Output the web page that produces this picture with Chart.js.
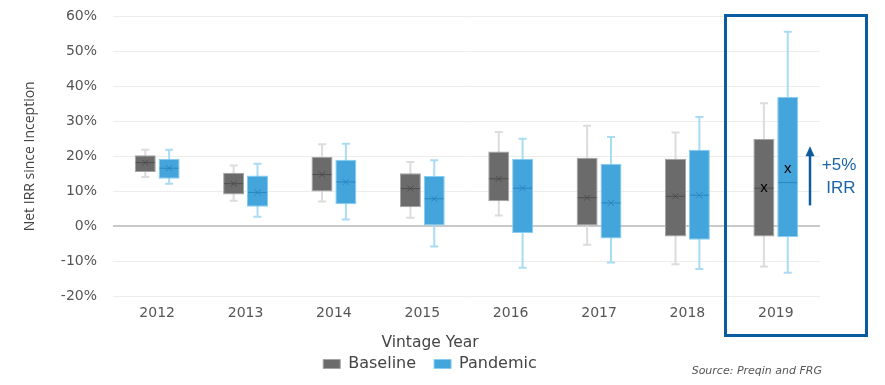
<!DOCTYPE html>
<html lang="en">
<head>
<meta charset="UTF-8">
<title>Net IRR since Inception by Vintage Year</title>
<script src="https://cdn.jsdelivr.net/npm/chart.js"></script>
<style>
  body { margin: 0; background: #fff; }
</style>
</head>
<body>
<canvas id="irr" width="885" height="385"></canvas>
<script>
// values (percent)
const years = ['2012', '2013', '2014', '2015', '2016', '2017', '2018', '2019'];

const baseMin    = [14.1, 7.3, 7.1, 2.5, 3.1, -5.2, -10.8, -11.4];
const baseQ1     = [15.5, 9.1, 10.0, 5.5, 7.2, 0.0, -2.9, -2.9];
const baseMedian = [18.2, 12.2, 14.8, 10.8, 13.6, 8.2, 8.6, 10.9];
const baseQ3     = [20.3, 15.3, 19.8, 15.2, 21.4, 19.6, 19.3, 24.9];
const baseMax    = [21.9, 17.4, 23.4, 18.4, 26.9, 28.7, 26.8, 35.1];
const baseMean   = [18.2, 12.2, 14.8, 10.8, 13.6, 8.2, 8.6, 10.9];

const pandMin    = [12.2, 2.8, 2.0, -5.7, -11.8, -10.3, -12.1, -13.2];
const pandQ1     = [13.6, 5.6, 6.3, 0.0, -1.9, -3.4, -3.8, -3.0];
const pandMedian = [16.6, 9.7, 12.7, 7.9, 10.9, 6.7, 8.9, 12.5];
const pandQ3     = [19.3, 14.5, 19.0, 14.4, 19.3, 17.9, 21.9, 36.9];
const pandMax    = [21.9, 17.9, 23.6, 18.9, 25.0, 25.5, 31.2, 55.5];
const pandMean   = [16.6, 9.7, 12.7, 7.9, 10.9, 6.7, 8.9, 16.3];

const yTicks = [-20, -10, 0, 10, 20, 30, 40, 50, 60];

const FONT = '"DejaVu Sans", sans-serif';

// whiskers, medians and means for each box dataset
const extras = [
  { min: baseMin, median: baseMedian, max: baseMax, mean: baseMean, whisker: '#dcdcdc', mid: '#4e4e4e' },
  { min: pandMin, median: pandMedian, max: pandMax, mean: pandMean, whisker: '#a9dbf3', mid: '#2b86bf' }
];

const boxPlotBits = {
  id: 'boxPlotBits',
  beforeDatasetsDraw(chart) {
    const ctx = chart.ctx, y = chart.scales.y;
    ctx.save();
    extras.forEach((s, d) => {
      chart.getDatasetMeta(d).data.forEach((bar, i) => {
        const top = y.getPixelForValue(s.max[i]);
        const bot = y.getPixelForValue(s.min[i]);
        ctx.strokeStyle = s.whisker;
        ctx.lineWidth = 2;
        ctx.beginPath();
        ctx.moveTo(bar.x, top); ctx.lineTo(bar.x, bot);
        ctx.moveTo(bar.x - 4, top); ctx.lineTo(bar.x + 4, top);
        ctx.moveTo(bar.x - 4, bot); ctx.lineTo(bar.x + 4, bot);
        ctx.stroke();
      });
    });
    ctx.restore();
  },
  afterDatasetsDraw(chart) {
    const ctx = chart.ctx, y = chart.scales.y;
    const last = years.length - 1;
    ctx.save();
    extras.forEach((s, d) => {
      chart.getDatasetMeta(d).data.forEach((bar, i) => {
        const half = bar.width / 2;
        const my = y.getPixelForValue(s.median[i]);
        ctx.strokeStyle = s.mid;
        ctx.lineWidth = 1;
        ctx.beginPath();
        ctx.moveTo(bar.x - half + 1, my); ctx.lineTo(bar.x + half - 1, my);
        ctx.stroke();
        const ay = y.getPixelForValue(s.mean[i]);
        if (i === last) {
          ctx.fillStyle = '#000';
          ctx.font = '15px "Liberation Sans", Arial, sans-serif';
          ctx.textAlign = 'center';
          ctx.textBaseline = 'middle';
          ctx.fillText('x', bar.x, ay);
        } else {
          ctx.beginPath();
          ctx.moveTo(bar.x - 3, ay - 3); ctx.lineTo(bar.x + 3, ay + 3);
          ctx.moveTo(bar.x + 3, ay - 3); ctx.lineTo(bar.x - 3, ay + 3);
          ctx.stroke();
        }
      });
    });
    ctx.restore();
  },
  afterDraw(chart) {
    const ctx = chart.ctx, y = chart.scales.y;
    ctx.save();
    // source note
    ctx.fillStyle = '#555';
    ctx.font = 'italic 11px ' + FONT;
    ctx.textAlign = 'right';
    ctx.textBaseline = 'middle';
    ctx.fillText('Source: Preqin and FRG', 822, 371);

    // highlight frame round 2019
    ctx.strokeStyle = '#0b5c9e';
    ctx.lineWidth = 3;
    ctx.strokeRect(725.5, 15.5, 141, 320);

    // arrow from the baseline mean up to the pandemic mean
    const ax = 810;
    const y0 = y.getPixelForValue(6), y1 = y.getPixelForValue(22);
    ctx.strokeStyle = '#0b5c9e';
    ctx.fillStyle = '#0b5c9e';
    ctx.lineWidth = 2.5;
    ctx.beginPath();
    ctx.moveTo(ax, y0); ctx.lineTo(ax, y1 + 6);
    ctx.stroke();
    ctx.beginPath();
    ctx.moveTo(ax, y1 - 3); ctx.lineTo(ax - 4.5, y1 + 7); ctx.lineTo(ax + 4.5, y1 + 7);
    ctx.closePath();
    ctx.fill();

    ctx.fillStyle = '#1a64a8';
    ctx.font = '17px "Liberation Sans", Arial, sans-serif';
    ctx.textAlign = 'center';
    ctx.fillText('+5%', 839, 165);
    ctx.fillText('IRR', 841, 188);
    ctx.restore();
  }
};

const chart = new Chart(document.getElementById('irr'), {
  type: 'bar',
  data: {
    labels: years,
    datasets: [
      {
        label: 'Baseline',
        data: years.map((_, i) => [baseQ1[i], baseQ3[i]]),
        backgroundColor: '#6b6b6b',
        borderColor: '#a3a3a3',
        borderWidth: 1,
        borderSkipped: false,
        categoryPercentage: 0.54,
        barPercentage: 0.88
      },
      {
        label: 'Pandemic',
        data: years.map((_, i) => [pandQ1[i], pandQ3[i]]),
        backgroundColor: '#43a5dc',
        borderColor: '#86cdef',
        borderWidth: 1,
        borderSkipped: false,
        categoryPercentage: 0.54,
        barPercentage: 0.88
      }
    ]
  },
  options: {
    responsive: false,
    animation: false,
    devicePixelRatio: 1,
    layout: { padding: { left: 0, right: 25, top: 16, bottom: 3 } },
    scales: {
      x: {
        grid: { display: false, drawTicks: false },
        border: { display: false },
        ticks: { color: '#555', font: { family: FONT, size: 14 }, padding: 8 }
      },
      y: {
        min: -20,
        max: 60,
        afterBuildTicks: (s) => { s.ticks = yTicks.map(v => ({ value: v })); },
        afterFit: (s) => { s.width = 113; s.paddingTop = 0; s.paddingBottom = 0; },
        border: { display: false },
        grid: {
          drawTicks: false,
          color: (c) => c.tick && c.tick.value === 0 ? '#c9c9c9' : '#ececec',
          lineWidth: (c) => c.tick && c.tick.value === 0 ? 2 : 1
        },
        ticks: {
          color: '#555',
          font: { family: FONT, size: 14 },
          padding: 16,
          callback: (v) => v + '%'
        },
        title: {
          display: true,
          text: 'Net IRR since Inception',
          color: '#444',
          font: { family: '"Open Sans", sans-serif', size: 14 },
          padding: { top: 22, bottom: 0 }
        }
      },
      // spacer so the legend centres where the reference has it
      y2: {
        position: 'right',
        display: true,
        min: -20,
        max: 60,
        grid: { display: false },
        border: { display: false },
        ticks: { display: false },
        afterFit: (s) => { s.width = 40; s.paddingTop = 0; s.paddingBottom = 0; }
      }
    },
    plugins: {
      tooltip: { enabled: false },
      legend: {
        position: 'bottom',
        title: {
          display: true,
          text: 'Vintage Year',
          color: '#444',
          font: { family: FONT, size: 15.5 },
          padding: { top: 6, bottom: -16 }
        },
        labels: {
          color: '#444',
          font: { family: FONT, size: 16 },
          boxWidth: 17,
          boxHeight: 9,
          padding: 18
        }
      }
    }
  },
  plugins: [boxPlotBits]
});
</script>
</body>
</html>
